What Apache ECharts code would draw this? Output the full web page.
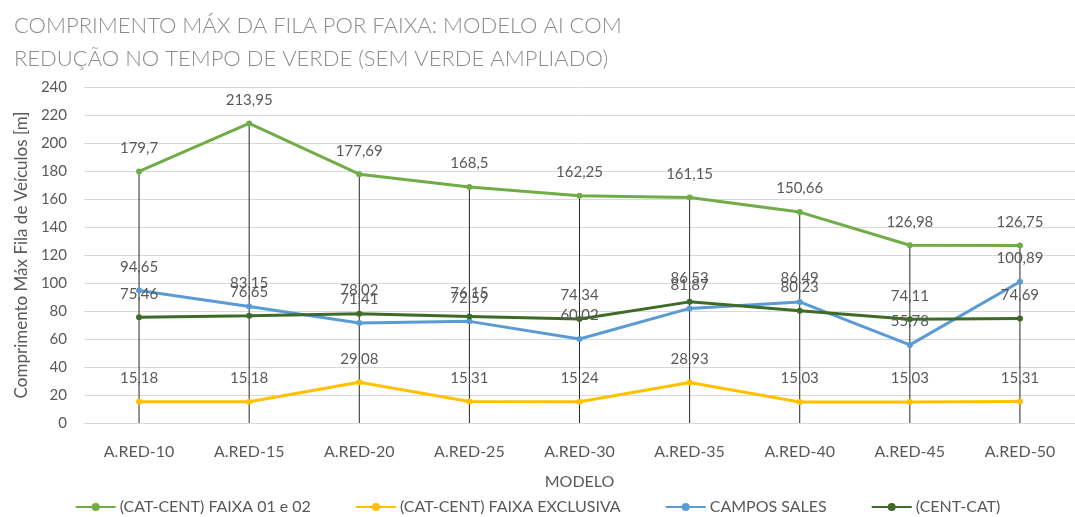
<!DOCTYPE html>
<html>
<head>
<meta charset="utf-8">
<script src="https://cdn.jsdelivr.net/npm/echarts@6/dist/echarts.min.js"></script>
<style>
  html, body { margin: 0; padding: 0; background: #ffffff; }
  #chart { width: 1075px; height: 517px; }
</style>
</head>
<body>
<div id="chart"></div>
<script>
// Categories (models) and the maximum queue length per lane, in metres
const categories = ['A.RED-10', 'A.RED-15', 'A.RED-20', 'A.RED-25', 'A.RED-30', 'A.RED-35', 'A.RED-40', 'A.RED-45', 'A.RED-50'];
const faixa0102 = [179.7, 213.95, 177.69, 168.5, 162.25, 161.15, 150.66, 126.98, 126.75];
const faixaExclusiva = [15.18, 15.18, 29.08, 15.31, 15.24, 28.93, 15.03, 15.03, 15.31];
const camposSales = [94.65, 83.15, 71.41, 72.59, 60.02, 81.87, 86.49, 55.78, 100.89];
const centCat = [75.46, 76.65, 78.02, 76.15, 74.34, 86.53, 80.23, 74.11, 74.69];
const seriesNames = ['(CAT-CENT) FAIXA 01 e 02', '(CAT-CENT) FAIXA EXCLUSIVA', 'CAMPOS SALES', '(CENT-CAT)'];
const yTicks = { min: 0, max: 240, interval: 20 };

const FONT = 'Lato, "Open Sans", sans-serif';
const TEXT = '#595959';

// Drop lines run from the highest point of each category down to the axis
const dropTop = categories.map((_, i) => Math.max(faixa0102[i], faixaExclusiva[i], camposSales[i], centCat[i]));

const fmt = v => String(v).replace('.', ',');

function lineSeries(name, data, color) {
  return {
    name: name,
    type: 'line',
    data: data,
    z: 3,
    symbol: 'circle',
    symbolSize: 6,
    lineStyle: { color: color, width: 3 },
    itemStyle: { color: color },
    label: {
      show: true,
      position: 'top',
      distance: 13,
      color: TEXT,
      fontFamily: FONT,
      fontSize: 15,
      formatter: p => fmt(p.value)
    }
  };
}

const chart = echarts.init(document.getElementById('chart'), null, { renderer: 'canvas' });
chart.setOption({
  animation: false,
  backgroundColor: '#ffffff',
  title: {
    text: 'COMPRIMENTO MÁX DA FILA POR FAIXA: MODELO AI COM\nREDUÇÃO NO TEMPO DE VERDE (SEM VERDE AMPLIADO)',
    left: 9,
    top: 4,
    textStyle: {
      color: '#8c8c8c',
      fontFamily: FONT,
      fontWeight: 300,
      fontSize: 22,
      lineHeight: 33
    }
  },
  legend: {
    data: seriesNames,
    top: 494,
    left: 'center',
    itemWidth: 40,
    itemHeight: 10,
    itemGap: 44,
    textStyle: { color: TEXT, fontFamily: FONT, fontSize: 16, padding: [0, 0, 0, -1] }
  },
  grid: { left: 84, right: -9, top: 87, bottom: 94, containLabel: false },
  xAxis: {
    type: 'category',
    data: categories,
    boundaryGap: true,
    name: 'MODELO',
    nameLocation: 'middle',
    nameGap: 51,
    nameTextStyle: { color: TEXT, fontFamily: FONT, fontSize: 16 },
    axisLine: { lineStyle: { color: '#d9d9d9' } },
    axisTick: { show: false },
    axisLabel: { color: TEXT, fontFamily: FONT, fontSize: 16, margin: 21 }
  },
  yAxis: {
    type: 'value',
    min: yTicks.min,
    max: yTicks.max,
    interval: yTicks.interval,
    name: 'Comprimento Máx Fila de Veículos [m]',
    nameLocation: 'middle',
    nameRotate: 90,
    nameGap: 53,
    nameTextStyle: { color: TEXT, fontFamily: FONT, fontSize: 17 },
    axisLine: { show: false },
    axisTick: { show: false },
    axisLabel: { color: TEXT, fontFamily: FONT, fontSize: 15, margin: 17 },
    splitLine: { lineStyle: { color: '#d9d9d9', width: 1 } }
  },
  series: [
    {
      name: 'drop',
      type: 'bar',
      data: dropTop,
      barWidth: 1,
      z: 1,
      silent: true,
      itemStyle: { color: '#262626' }
    },
    lineSeries(seriesNames[0], faixa0102, '#70AD47'),
    lineSeries(seriesNames[1], faixaExclusiva, '#FFC000'),
    lineSeries(seriesNames[2], camposSales, '#5B9BD5'),
    lineSeries(seriesNames[3], centCat, '#3E6B27')
  ]
});
</script>
</body>
</html>
